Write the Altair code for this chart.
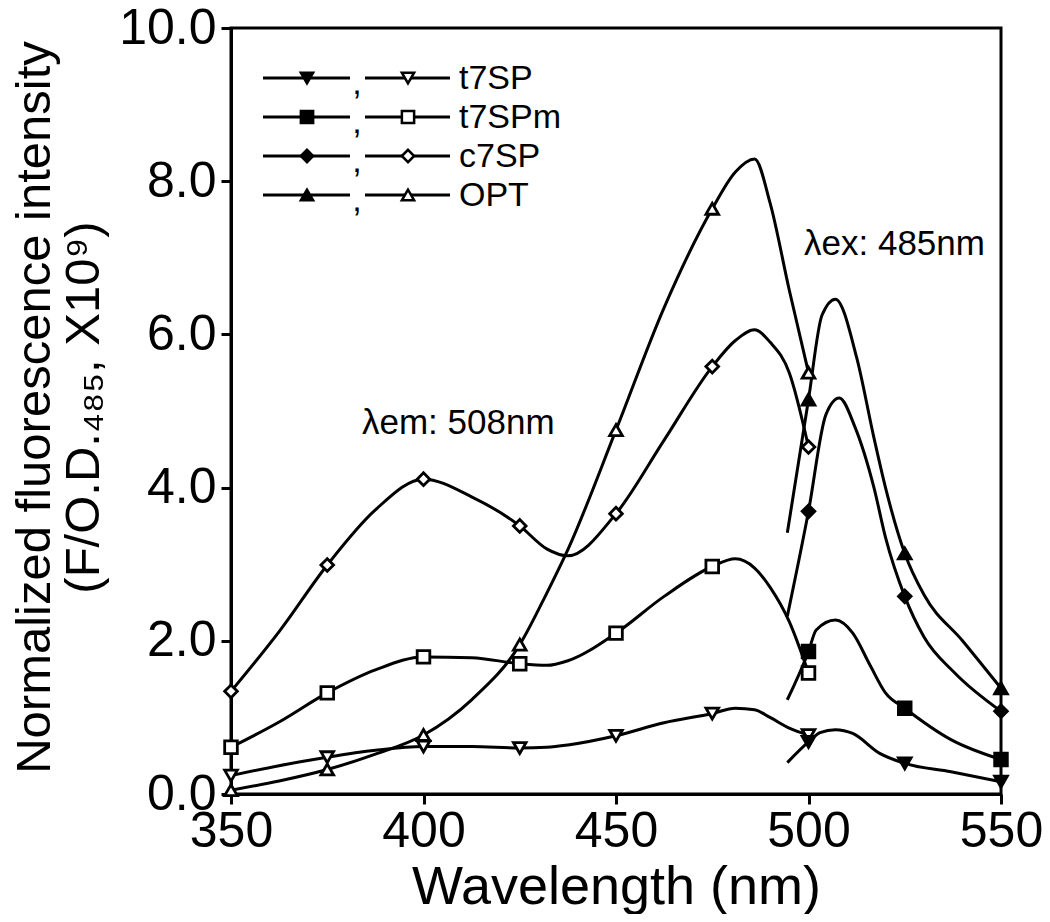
import altair as alt
import pandas as pd

# ---------------- data ----------------
series = ["t7SP", "t7SPm", "c7SP", "OPT"]
shapes = ["triangle-down", "square", "diamond", "triangle-up"]

# excitation spectra (open symbols, lambda_em 508 nm)
ex_wl = [350, 375, 400, 425, 450, 475, 500]
ex_t7SP = [0.24, 0.48, 0.62, 0.60, 0.76, 1.05, 0.77]
ex_t7SPm = [0.61, 1.32, 1.79, 1.70, 2.10, 2.97, 1.58]
ex_c7SP = [1.34, 2.99, 4.11, 3.50, 3.66, 5.58, 4.53]
ex_OPT = [0.05, 0.32, 0.77, 1.95, 4.75, 7.64, 5.50]

# extra points (no symbol)
exl_wl = [362.5, 387.5, 412.5, 432, 437.5, 462.5, 481, 486, 490, 495]
exl_t7SP = [0.37, 0.57, 0.62, 0.61, 0.64, 0.93, 1.12, 1.10, 1.00, 0.86]
exl_t7SPm = [0.94, 1.62, 1.78, 1.68, 1.74, 2.58, 3.07, 2.95, 2.70, 2.25]
exl_c7SP = [2.12, 3.71, 3.88, 3.20, 3.11, 4.62, 5.92, 6.06, 5.90, 5.50]
exl_OPT = [0.17, 0.52, 1.23, 2.62, 3.19, 6.35, 8.12, 8.29, 7.72, 6.58]

# emission spectra (filled symbols, lambda_ex 485 nm)
em_wl = [500, 525, 550]
em_t7SP = [0.68, 0.40, 0.16]
em_t7SPm = [1.86, 1.12, 0.45]
em_c7SP = [3.69, 2.58, 1.08]
em_OPT = [5.15, 3.14, 1.38]

# extra points (no symbol)
eml_wl_t7SP = [494.5, 503, 507, 511.5, 518.5, 537]
eml_t7SP = [0.41, 0.80, 0.84, 0.79, 0.53, 0.29]
eml_wl_t7SPm = [494.5, 502, 507, 511.5, 516, 520, 537]
eml_t7SPm = [1.23, 2.14, 2.27, 2.10, 1.68, 1.32, 0.71]
eml_wl_c7SP = [494.5, 504.5, 508, 512, 517, 520, 530, 538]
eml_c7SP = [2.32, 4.95, 5.17, 4.80, 4.00, 3.35, 2.05, 1.58]
eml_wl_OPT = [494.5, 503.5, 507, 512.5, 517, 520, 530, 540]
eml_OPT = [3.41, 6.25, 6.46, 5.70, 4.65, 4.00, 2.60, 2.00]

ex_marks = {"t7SP": ex_t7SP, "t7SPm": ex_t7SPm, "c7SP": ex_c7SP, "OPT": ex_OPT}
ex_extra = {"t7SP": exl_t7SP, "t7SPm": exl_t7SPm, "c7SP": exl_c7SP, "OPT": exl_OPT}
em_marks = {"t7SP": em_t7SP, "t7SPm": em_t7SPm, "c7SP": em_c7SP, "OPT": em_OPT}
em_extra = {
    "t7SP": (eml_wl_t7SP, eml_t7SP),
    "t7SPm": (eml_wl_t7SPm, eml_t7SPm),
    "c7SP": (eml_wl_c7SP, eml_c7SP),
    "OPT": (eml_wl_OPT, eml_OPT),
}

line_rows = []
mark_rows = []
for s in series:
    pts = list(zip(ex_wl, ex_marks[s])) + list(zip(exl_wl, ex_extra[s]))
    for w, v in sorted(pts):
        line_rows.append({"wl": w, "val": v, "key": s + "_ex"})
    ewl, ev = em_extra[s]
    pts = list(zip(em_wl, em_marks[s])) + list(zip(ewl, ev))
    for w, v in sorted(pts):
        line_rows.append({"wl": w, "val": v, "key": s + "_em"})
    for w, v in zip(ex_wl, ex_marks[s]):
        mark_rows.append({"wl": w, "val": v, "series": s, "kind": "open"})
    for w, v in zip(em_wl, em_marks[s]):
        mark_rows.append({"wl": w, "val": v, "series": s, "kind": "filled"})

line_df = pd.DataFrame(line_rows)
mark_df = pd.DataFrame(mark_rows)

FONT = "Liberation Sans"
W, H = 770, 766

xscale = alt.Scale(domain=[350, 550], nice=False, zero=False)
yscale = alt.Scale(domain=[0, 10], nice=False, zero=False)

x_enc = alt.X(
    "wl:Q", scale=xscale, title="Wavelength (nm)",
    axis=alt.Axis(values=[350, 400, 450, 500, 550], format="d", labelFlush=False,
                  labelOverlap=False, labelPadding=2, titleY=66, titleFontSize=54,
                  titleBaseline="top"),
)
y_enc = alt.Y(
    "val:Q", scale=yscale,
    title=["Normalized fluorescence intensity", "(F/O.D.\u2084\u2088\u2085, X10\u2079)"],
    axis=alt.Axis(values=[0, 2, 4, 6, 8, 10], format=".1f", labelFlush=False,
                  labelOverlap=False, labelPadding=5, titleX=-172, titleY=H / 2 - 4,
                  titleFontSize=49, titleLineHeight=49, titleBaseline="bottom"),
)

lines = alt.Chart(line_df).mark_line(
    color="black", strokeWidth=3, interpolate="monotone"
).encode(x=x_enc, y=y_enc, detail="key:N")

points = alt.Chart(mark_df).mark_point(
    filled=True, stroke="black", strokeWidth=2.8, opacity=1, fillOpacity=1
).encode(
    x="wl:Q", y="val:Q",
    shape=alt.Shape("series:N", scale=alt.Scale(domain=series, range=shapes), legend=None),
    fill=alt.Fill("kind:N", scale=alt.Scale(domain=["filled", "open"], range=["black", "white"]), legend=None),
    size=alt.value(160),
)

layers = [lines, points]

# manual legend (filled symbol line , open symbol line  label)
one = pd.DataFrame({"a": [0]})
for i, s in enumerate(series):
    yy = 50 + i * 39
    layers.append(alt.Chart(one).mark_rule(color="black", strokeWidth=3).encode(
        x=alt.value(32), x2=alt.value(119), y=alt.value(yy)))
    layers.append(alt.Chart(one).mark_rule(color="black", strokeWidth=3).encode(
        x=alt.value(134), x2=alt.value(219), y=alt.value(yy)))
    layers.append(alt.Chart(one).mark_point(
        filled=True, fill="black", stroke="black", strokeWidth=2.5, opacity=1,
        shape=shapes[i], size=150).encode(x=alt.value(76), y=alt.value(yy)))
    layers.append(alt.Chart(one).mark_point(
        filled=True, fill="white", stroke="black", strokeWidth=2.5, opacity=1,
        shape=shapes[i], size=150).encode(x=alt.value(177), y=alt.value(yy)))
    layers.append(alt.Chart(one).mark_text(
        text=",", font=FONT, fontSize=34, align="center", baseline="middle", color="black"
    ).encode(x=alt.value(126), y=alt.value(yy + 6)))
    layers.append(alt.Chart(one).mark_text(
        text=s, font=FONT, fontSize=34, align="left", baseline="middle", color="black"
    ).encode(x=alt.value(228), y=alt.value(yy + 1)))

layers.append(alt.Chart(one).mark_text(
    text="\u03bbem: 508nm", font=FONT, fontSize=35, align="left", baseline="middle", color="black"
).encode(x=alt.value(131), y=alt.value(395)))
layers.append(alt.Chart(one).mark_text(
    text="\u03bbex: 485nm", font=FONT, fontSize=35, align="left", baseline="middle", color="black"
).encode(x=alt.value(573), y=alt.value(216)))

chart = alt.layer(*layers).properties(
    width=W, height=H,
    autosize=alt.AutoSizeParams(type="none"),
    padding={"left": 223, "top": 20, "right": 41, "bottom": 120},
).configure(font=FONT).configure_view(
    stroke="black", strokeWidth=3
).configure_axis(
    domainColor="black", domainWidth=3, tickColor="black", tickWidth=3, tickSize=10,
    labelColor="black", labelFontSize=50, labelFont=FONT, titleFont=FONT,
    titleColor="black", titleFontWeight="normal", grid=False,
)

chart.save("out.html", embed_options={"renderer": "svg", "actions": False})
